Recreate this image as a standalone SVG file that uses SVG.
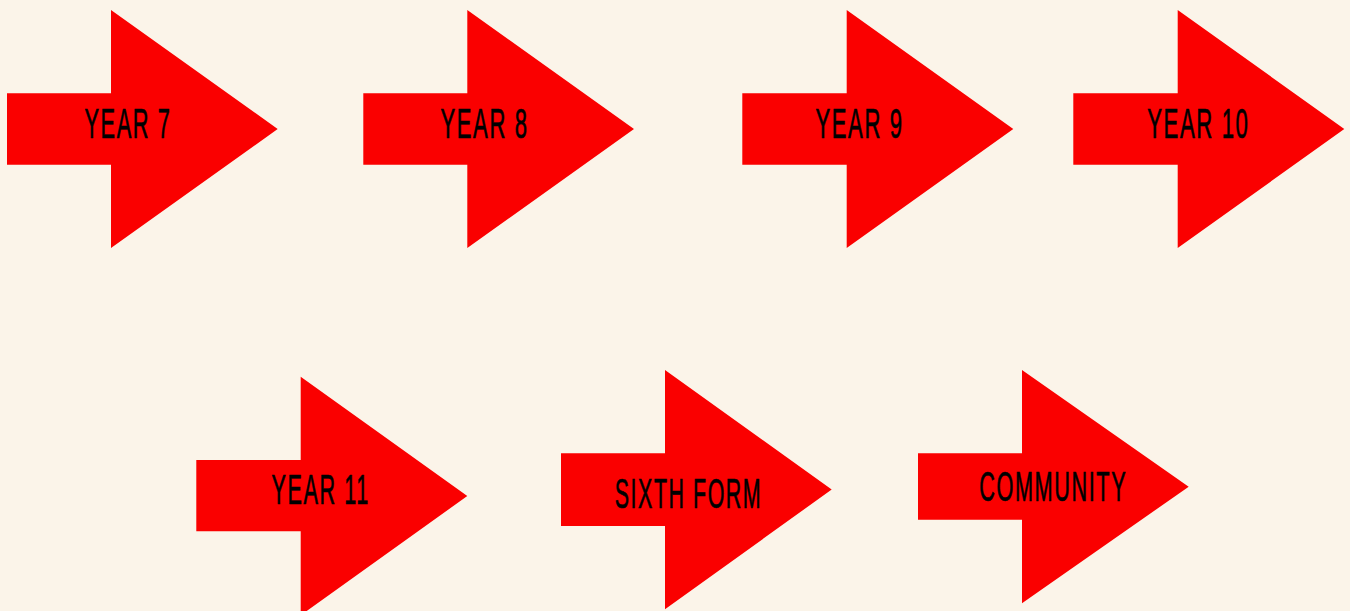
<svg xmlns="http://www.w3.org/2000/svg" width="1350" height="611" viewBox="0 0 1350 611">
<style>
.arrow{fill:#FA0000;}
.lbl{font-family:"Liberation Sans",Arial,sans-serif;font-size:42px;fill:#000;stroke:#000;stroke-width:0.7px;letter-spacing:3px;}
</style>
<rect width="1350" height="611" fill="#FBF4E9"/>
<g id="year7">
<polygon class="arrow" points="7,93.3 111,93.3 111,10 277.7,129 111,248 111,164.7 7,164.7"/>
<text class="lbl" x="84.5" y="137.5" textLength="87" lengthAdjust="spacingAndGlyphs">YEAR 7</text>
</g>
<g id="year8">
<polygon class="arrow" points="363.3,93.3 467.3,93.3 467.3,10 634,129 467.3,248 467.3,164.7 363.3,164.7"/>
<text class="lbl" x="440.5" y="137.5" textLength="88" lengthAdjust="spacingAndGlyphs">YEAR 8</text>
</g>
<g id="year9">
<polygon class="arrow" points="742.3,93.3 846.7,93.3 846.7,10 1013.3,129 846.7,248 846.7,164.7 742.3,164.7"/>
<text class="lbl" x="815.5" y="137.5" textLength="88" lengthAdjust="spacingAndGlyphs">YEAR 9</text>
</g>
<g id="year10">
<polygon class="arrow" points="1073.3,93.3 1177.7,93.3 1177.7,10 1344.3,129 1177.7,248 1177.7,164.7 1073.3,164.7"/>
<text class="lbl" x="1147.2" y="137.5" textLength="102.3" lengthAdjust="spacingAndGlyphs">YEAR 10</text>
</g>
<g id="year11">
<polygon class="arrow" points="196.3,460 300.7,460 300.7,376.7 467.3,496 300.7,615.3 300.7,531.3 196.3,531.3"/>
<text class="lbl" x="271.5" y="504" textLength="98.3" lengthAdjust="spacingAndGlyphs">YEAR 11</text>
</g>
<g id="sixthform">
<polygon class="arrow" points="561,453.3 665,453.3 665,370 831.7,489.5 665,609.3 665,526 561,526"/>
<text class="lbl" x="614.8" y="507.7" textLength="147.4" lengthAdjust="spacingAndGlyphs">SIXTH FORM</text>
</g>
<g id="community">
<polygon class="arrow" points="918,453.3 1022,453.3 1022,370 1188.7,486.7 1022,603.3 1022,519.7 918,519.7"/>
<text class="lbl" x="979.2" y="501" textLength="148" lengthAdjust="spacingAndGlyphs">COMMUNITY</text>
</g>
<g id="connectors"/>
</svg>
